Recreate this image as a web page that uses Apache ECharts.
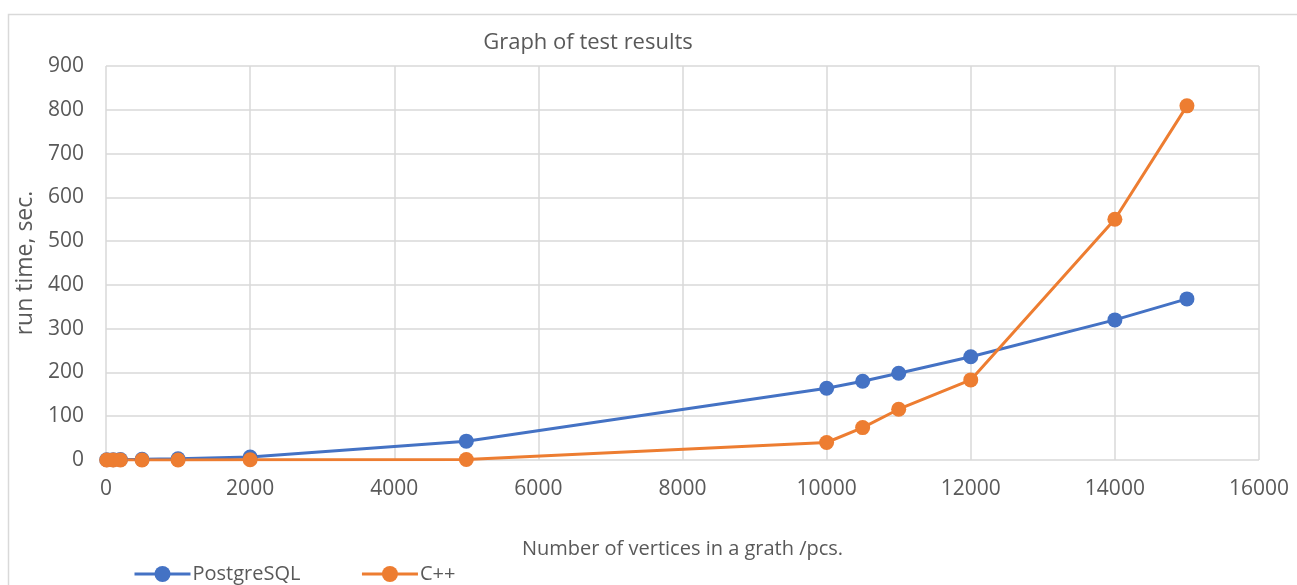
<!DOCTYPE html>
<html><head><meta charset="utf-8">
<script src="https://cdn.jsdelivr.net/npm/echarts@6/dist/echarts.min.js"></script>
<style>html,body{margin:0;padding:0;background:#fff}#c{width:1297px;height:585px}</style>
</head><body><div id="c"></div>
<script>
const vertices = [10, 100, 200, 500, 1000, 2000, 5000, 10000, 10500, 11000, 12000, 14000, 15000];
const postgres = [0.5, 0.8, 1, 1.5, 3, 7, 43, 164, 180, 198, 236, 320, 368];
const cpp = [0, 0, 0, 0, 0, 0.5, 1, 40, 74, 116, 183, 550, 809];
const title = 'Graph of test results';
const xName = 'Number of vertices in a grath /pcs.';
const yName = 'run time, sec.';
const seriesNames = ['PostgreSQL', 'C++'];

const font = '"Open Sans", "Liberation Sans", sans-serif';
const txt = '#595959';
const chart = echarts.init(document.getElementById('c'));
chart.setOption({
  animation: false,
  title: { text: title, left: 583, top: 27, textAlign: 'center',
    textStyle: { fontFamily: font, fontSize: 22, fontWeight: 'normal', color: txt } },
  graphic: [{ type: 'rect', shape: { x: 8.5, y: 14.5, width: 1400, height: 700 },
    style: { fill: 'none', stroke: '#d9d9d9', lineWidth: 1.5 }, silent: true, z: -1 }],
  grid: { left: 106, right: 38, top: 66, bottom: 125 },
  legend: { top: 559, left: 128, itemWidth: 56, itemHeight: 20, itemGap: 60,
    lineStyle: { width: 3 },
    textStyle: { fontFamily: font, fontSize: 20, color: txt, padding: [0, 0, 0, -3] },
    data: seriesNames },
  xAxis: { type: 'value', min: 0, max: 16000, interval: 2000,
    name: xName, nameLocation: 'middle', nameGap: 79,
    nameTextStyle: { fontFamily: font, fontSize: 20, color: txt },
    axisLine: { show: false }, axisTick: { show: false },
    axisLabel: { fontFamily: font, fontSize: 21, color: txt, margin: 19,
      formatter: v => String(v) },
    splitLine: { show: true, lineStyle: { color: '#d9d9d9', width: 1.5 } } },
  yAxis: { type: 'value', min: 0, max: 900, interval: 100,
    name: yName, nameLocation: 'middle', nameGap: 57,
    nameTextStyle: { fontFamily: font, fontSize: 23, color: txt },
    axisLine: { show: false }, axisTick: { show: false },
    axisLabel: { fontFamily: font, fontSize: 21, color: txt, margin: 22 },
    splitLine: { lineStyle: { color: '#d9d9d9', width: 1.5 } } },
  series: [
    { name: seriesNames[0], type: 'line', data: vertices.map((v, i) => [v, postgres[i]]),
      symbol: 'circle', symbolSize: 15, color: '#4472c4', lineStyle: { width: 3 } },
    { name: seriesNames[1], type: 'line', data: vertices.map((v, i) => [v, cpp[i]]),
      symbol: 'circle', symbolSize: 15, color: '#ed7d31', lineStyle: { width: 3 } }
  ]
});
</script></body></html>
